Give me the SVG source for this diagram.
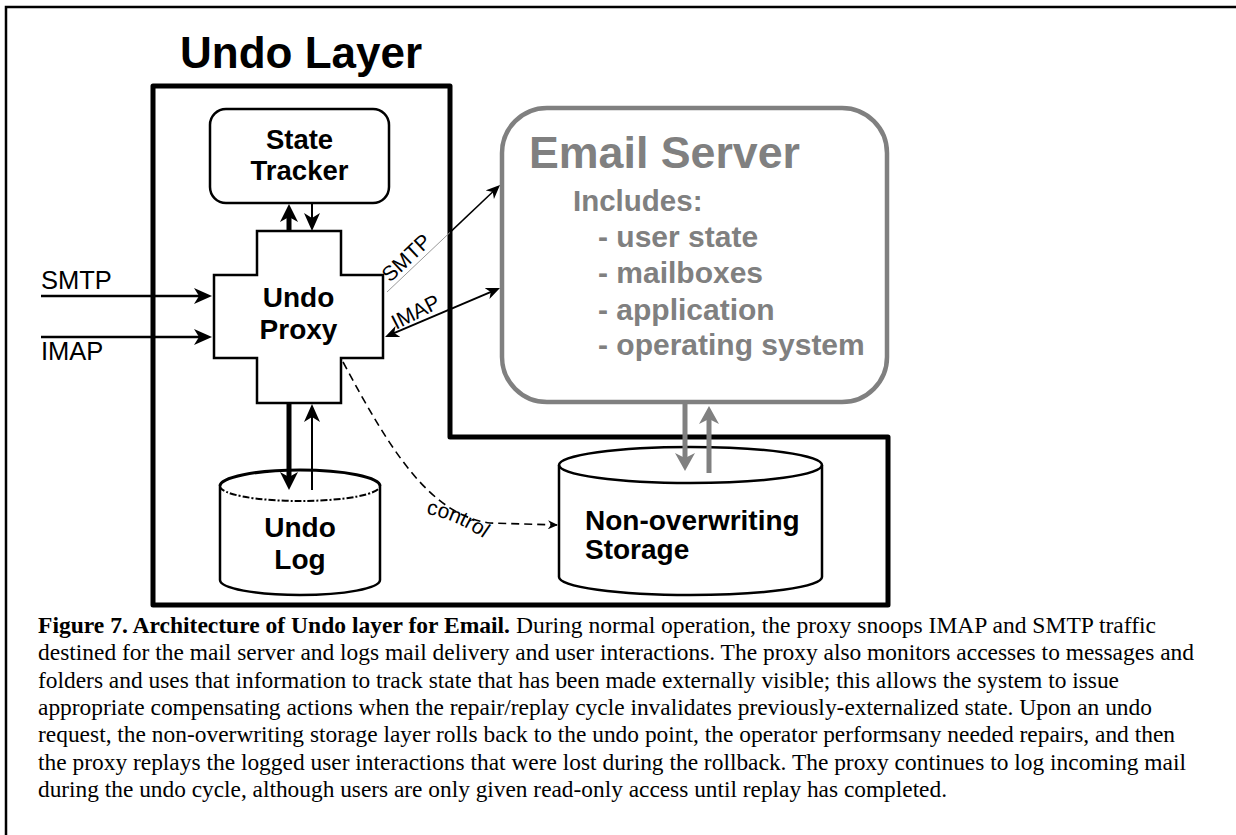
<svg xmlns="http://www.w3.org/2000/svg" width="1236" height="835" viewBox="0 0 1236 835">
<style>
.bold{font-family:"Liberation Sans",Arial,sans-serif;font-weight:bold;}
.reg{font-family:"Liberation Sans",Arial,sans-serif;}
.gray{fill:#808080;}
.cap{font-family:"Liberation Serif","Times New Roman",serif;font-size:23.4px;fill:#000;}
.ln{fill:none;stroke:#000;}
</style>
<defs>
<marker id="m-in" viewBox="0 0 18 16" refX="12" refY="8" markerWidth="18" markerHeight="16" markerUnits="userSpaceOnUse" orient="auto"><path d="M0,0 L18,8 L0,16 L5,8 z" fill="#000"/></marker>
<marker id="m-thick" viewBox="0 0 18 18" refX="10" refY="9" markerWidth="18" markerHeight="18" markerUnits="userSpaceOnUse" orient="auto"><path d="M0,0 L18,9 L0,18 L5,9 z" fill="#000"/></marker>
<marker id="m-sm" viewBox="0 0 14 12" refX="10" refY="6" markerWidth="14" markerHeight="12" markerUnits="userSpaceOnUse" orient="auto-start-reverse"><path d="M0,0 L14,6 L0,12 L4,6 z" fill="#000"/></marker>
<marker id="m-gray" viewBox="0 0 18 20" refX="10" refY="10" markerWidth="18" markerHeight="20" markerUnits="userSpaceOnUse" orient="auto"><path d="M0,0 L18,10 L0,20 L5,10 z" fill="#808080"/></marker>
<marker id="m-ctl" viewBox="0 0 10 9" refX="9" refY="4.5" markerWidth="10" markerHeight="9" markerUnits="userSpaceOnUse" orient="auto"><path d="M0,0 L10,4.5 L0,9 L3,4.5 z" fill="#000"/></marker>
<path id="ctlpath" d="M426,514 Q462,520 496,548"/>
</defs>
<rect width="1236" height="835" fill="#fff"/>
<!-- outer figure frame -->
<path d="M6,835 L6,7 L1236,7" fill="none" stroke="#000" stroke-width="2.5"/>
<!-- Undo layer boundary -->
<g id="undo-layer">
<path d="M153,86 L450,86 L450,437 L888,437 L888,605 L153,605 Z" fill="none" stroke="#000" stroke-width="5" stroke-linejoin="round"/>
<text class="bold" x="180" y="68" font-size="44">Undo Layer</text>
</g>
<g id="state-tracker">
<rect x="210" y="109" width="179" height="94" rx="16" fill="#fff" stroke="#000" stroke-width="2.5"/>
<text class="bold" x="299.5" y="149" font-size="27.5" text-anchor="middle">State</text>
<text class="bold" x="299.5" y="180" font-size="27.5" text-anchor="middle">Tracker</text>
</g>
<g id="undo-proxy">
<path d="M257,231 L341,231 L341,275 L383,275 L383,358 L341,358 L341,403 L257,403 L257,358 L214,358 L214,275 L257,275 Z" fill="#fff" stroke="#000" stroke-width="2.5"/>
<text class="bold" x="298.5" y="307" font-size="28" text-anchor="middle">Undo</text>
<text class="bold" x="298.5" y="339" font-size="28" text-anchor="middle">Proxy</text>
</g>
<g id="undo-log">
<path d="M220,486 L220,580 A80,15 0 0 0 380,580 L380,486 A80,15 0 0 0 220,486 Z" fill="#fff" stroke="none"/>
<path d="M220,486 A80,16 0 0 1 380,486" class="ln" stroke-width="3"/>
<path d="M220,486 A80,15 0 0 0 380,486" class="ln" stroke-width="2" stroke-dasharray="7,2,2,2"/>
<path d="M220,486 L220,580 A80,15 0 0 0 380,580 L380,486" class="ln" stroke-width="2.5"/>
<text class="bold" x="300" y="537" font-size="28" text-anchor="middle">Undo</text>
<text class="bold" x="300" y="569" font-size="28" text-anchor="middle">Log</text>
</g>
<g id="email-server">
<rect x="502" y="108" width="385" height="294" rx="45" fill="#fff" stroke="#808080" stroke-width="4.5"/>
<text class="bold gray" x="529" y="168" font-size="44" textLength="271" lengthAdjust="spacingAndGlyphs">Email Server</text>
<text class="bold gray" x="573" y="211" font-size="29.5">Includes:</text>
<text class="bold gray" x="598" y="247" font-size="30">- user state</text>
<text class="bold gray" x="598" y="283" font-size="30">- mailboxes</text>
<text class="bold gray" x="598" y="320" font-size="30">- application</text>
<text class="bold gray" x="598" y="355" font-size="30">- operating system</text>
</g>
<g id="storage">
<path d="M559,465 L559,577 A131.5,18 0 0 0 822,577 L822,465 A131.5,18 0 0 0 559,465 Z" fill="#fff" stroke="#000" stroke-width="2.5"/>
<path d="M559,465 A131.5,18 0 0 0 822,465" class="ln" stroke-width="2.5"/>
<text class="bold" x="585" y="530" font-size="28">Non-overwriting</text>
<text class="bold" x="585" y="559" font-size="28">Storage</text>
</g>
<g id="connectors">
<line x1="41" y1="296" x2="206" y2="296" stroke="#000" stroke-width="2.5" marker-end="url(#m-in)"/>
<line x1="41" y1="337" x2="206" y2="337" stroke="#000" stroke-width="2.5" marker-end="url(#m-in)"/>
<line x1="289" y1="231" x2="289" y2="212" stroke="#000" stroke-width="5" marker-end="url(#m-thick)"/>
<line x1="312" y1="203" x2="312" y2="225" stroke="#000" stroke-width="2" marker-end="url(#m-in)"/>
<line x1="289" y1="403" x2="289" y2="482" stroke="#000" stroke-width="5" marker-end="url(#m-thick)"/>
<line x1="312" y1="490" x2="312" y2="410" stroke="#000" stroke-width="2" marker-end="url(#m-in)"/>
<line x1="387" y1="292" x2="450" y2="232.4" stroke="#999" stroke-width="1"/>
<line x1="450" y1="232.4" x2="497.1" y2="187.8" stroke="#000" stroke-width="1.5" marker-end="url(#m-sm)"/>
<line x1="388.7" y1="335.4" x2="496.3" y2="289.6" stroke="#000" stroke-width="2" marker-start="url(#m-sm)" marker-end="url(#m-sm)"/>
<line x1="685" y1="403" x2="685" y2="463" stroke="#808080" stroke-width="5" marker-end="url(#m-gray)"/>
<line x1="709" y1="473" x2="709" y2="414" stroke="#808080" stroke-width="5" marker-end="url(#m-gray)"/>
<path d="M343,362 C390,450 430,515 490,523 L557,525" fill="none" stroke="#000" stroke-width="1.6" stroke-dasharray="8,5" marker-end="url(#m-ctl)"/>
<text class="reg" x="41" y="289" font-size="25.5">SMTP</text>
<text class="reg" x="41" y="360" font-size="25.5">IMAP</text>
<text class="reg" font-size="21" transform="translate(390,283) rotate(-43.4)">SMTP</text>
<text class="reg" font-size="21" transform="translate(396,330) rotate(-27)">IMAP</text>
<text class="reg" font-size="21"><textPath href="#ctlpath">control</textPath></text>
</g>
<g id="caption">
<text class="cap" x="38" y="633" textLength="1118" lengthAdjust="spacingAndGlyphs"><tspan font-weight="bold">Figure 7. Architecture of Undo layer for Email.</tspan> During normal operation, the proxy snoops IMAP and SMTP traffic</text>
<text class="cap" x="38" y="660" textLength="1156" lengthAdjust="spacingAndGlyphs">destined for the mail server and logs mail delivery and user interactions. The proxy also monitors accesses to messages and</text>
<text class="cap" x="38" y="688" textLength="1081" lengthAdjust="spacingAndGlyphs">folders and uses that information to track state that has been made externally visible; this allows the system to issue</text>
<text class="cap" x="38" y="715" textLength="1114" lengthAdjust="spacingAndGlyphs">appropriate compensating actions when the repair/replay cycle invalidates previously-externalized state. Upon an undo</text>
<text class="cap" x="38" y="742" textLength="1137" lengthAdjust="spacingAndGlyphs">request, the non-overwriting storage layer rolls back to the undo point, the operator performsany needed repairs, and then</text>
<text class="cap" x="38" y="770" textLength="1148" lengthAdjust="spacingAndGlyphs">the proxy replays the logged user interactions that were lost during the rollback. The proxy continues to log incoming mail</text>
<text class="cap" x="38" y="797" textLength="909" lengthAdjust="spacingAndGlyphs">during the undo cycle, although users are only given read-only access until replay has completed.</text>
</g>
</svg>
